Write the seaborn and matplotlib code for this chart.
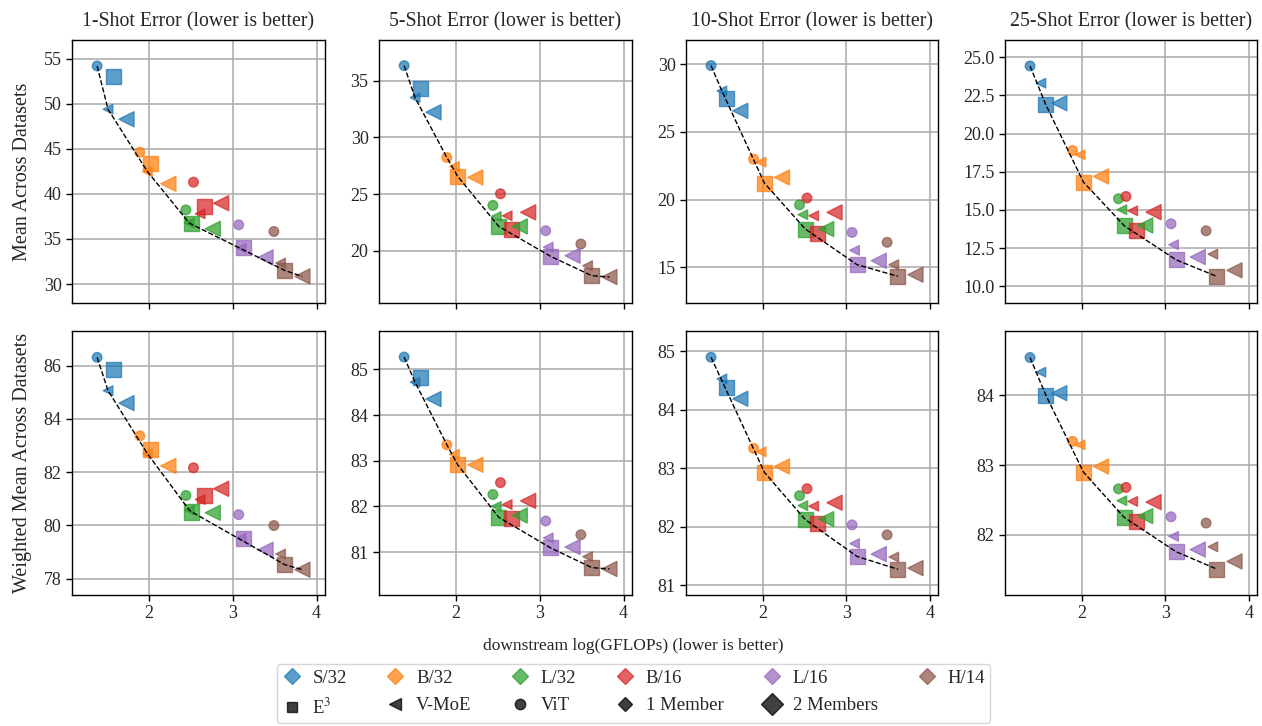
import numpy as np
import pandas as pd
import matplotlib
matplotlib.use("Agg")
import matplotlib.pyplot as plt
from matplotlib.lines import Line2D
import seaborn as sns

# ---------------------------------------------------------------
# data
# ---------------------------------------------------------------
models = ["S/32", "B/32", "L/32", "B/16", "L/16", "H/14"]
shots = [1, 5, 10, 25]

# downstream log(GFLOPs) per model, one list per method / ensemble size
gflops_vit = [1.38, 1.89, 2.44, 2.53, 3.07, 3.49]
gflops_vmoe_1 = [1.51, 1.98, 2.48, 2.61, 3.10, 3.57]
gflops_e3 = [1.57, 2.02, 2.51, 2.66, 3.13, 3.62]
gflops_vmoe_2 = [1.73, 2.23, 2.76, 2.86, 3.39, 3.83]

# mean error across datasets
mean_1_vit = [54.19, 44.62, 38.23, 41.30, 36.57, 35.83]
mean_1_vmoe_1 = [49.39, 42.48, 36.76, 37.79, 33.99, 32.33]
mean_1_e3 = [53.00, 43.40, 36.76, 38.60, 34.06, 31.51]
mean_1_vmoe_2 = [48.28, 41.12, 36.13, 38.97, 32.95, 30.85]

mean_5_vit = [36.32, 28.22, 24.00, 25.02, 21.76, 20.59]
mean_5_vmoe_1 = [33.50, 27.43, 23.02, 23.08, 20.32, 18.68]
mean_5_e3 = [34.27, 26.55, 22.14, 21.91, 19.50, 17.80]
mean_5_vmoe_2 = [32.21, 26.46, 22.14, 23.38, 19.56, 17.68]

mean_10_vit = [29.90, 22.99, 19.62, 20.12, 17.58, 16.85]
mean_10_vmoe_1 = [28.03, 22.77, 18.89, 18.81, 16.26, 15.20]
mean_10_e3 = [27.49, 21.22, 17.83, 17.48, 15.20, 14.34]
mean_10_vmoe_2 = [26.56, 21.64, 17.83, 19.06, 15.49, 14.46]

mean_25_vit = [24.43, 18.89, 15.73, 15.88, 14.09, 13.63]
mean_25_vmoe_1 = [23.30, 18.61, 15.01, 14.94, 12.72, 12.10]
mean_25_e3 = [21.88, 16.82, 13.96, 13.63, 11.73, 10.64]
mean_25_vmoe_2 = [21.99, 17.19, 13.98, 14.85, 11.91, 11.04]

# weighted mean error across datasets
wmean_1_vit = [86.31, 83.36, 81.12, 82.16, 80.40, 79.99]
wmean_1_vmoe_1 = [85.06, 82.69, 80.57, 80.97, 79.52, 78.92]
wmean_1_e3 = [85.87, 82.86, 80.50, 81.13, 79.52, 78.52]
wmean_1_vmoe_2 = [84.59, 82.23, 80.47, 81.37, 79.08, 78.33]

wmean_5_vit = [85.27, 83.35, 82.26, 82.52, 81.68, 81.38]
wmean_5_vmoe_1 = [84.72, 83.14, 82.00, 82.04, 81.31, 80.90]
wmean_5_e3 = [84.82, 82.91, 81.76, 81.73, 81.09, 80.66]
wmean_5_vmoe_2 = [84.35, 82.91, 81.80, 82.12, 81.11, 80.63]

wmean_10_vit = [84.90, 83.34, 82.53, 82.65, 82.03, 81.86]
wmean_10_vmoe_1 = [84.53, 83.28, 82.36, 82.35, 81.71, 81.48]
wmean_10_e3 = [84.39, 82.93, 82.12, 82.05, 81.49, 81.27]
wmean_10_vmoe_2 = [84.19, 83.03, 82.13, 82.41, 81.53, 81.29]

wmean_25_vit = [84.54, 83.34, 82.66, 82.68, 82.26, 82.17]
wmean_25_vmoe_1 = [84.33, 83.29, 82.49, 82.48, 81.98, 81.83]
wmean_25_e3 = [84.00, 82.90, 82.25, 82.19, 81.76, 81.51]
wmean_25_vmoe_2 = [84.03, 82.98, 82.27, 82.47, 81.79, 81.62]

top_row = [
    (mean_1_vit, mean_1_vmoe_1, mean_1_e3, mean_1_vmoe_2),
    (mean_5_vit, mean_5_vmoe_1, mean_5_e3, mean_5_vmoe_2),
    (mean_10_vit, mean_10_vmoe_1, mean_10_e3, mean_10_vmoe_2),
    (mean_25_vit, mean_25_vmoe_1, mean_25_e3, mean_25_vmoe_2),
]
bottom_row = [
    (wmean_1_vit, wmean_1_vmoe_1, wmean_1_e3, wmean_1_vmoe_2),
    (wmean_5_vit, wmean_5_vmoe_1, wmean_5_e3, wmean_5_vmoe_2),
    (wmean_10_vit, wmean_10_vmoe_1, wmean_10_e3, wmean_10_vmoe_2),
    (wmean_25_vit, wmean_25_vmoe_1, wmean_25_e3, wmean_25_vmoe_2),
]

# axis ranges and tick labels
x_limits = (1.08, 4.10)
x_ticks = [2, 3, 4]
top_ylims = [(27.9, 57.07), (15.39, 38.58), (12.37, 31.79), (8.9, 26.13)]
bottom_ylims = [(77.38, 87.3), (80.06, 85.84), (80.83, 85.35), (81.14, 84.92)]
top_yticks = [
    [30, 35, 40, 45, 50, 55],
    [20, 25, 30, 35],
    [15, 20, 25, 30],
    [10.0, 12.5, 15.0, 17.5, 20.0, 22.5, 25.0],
]
bottom_yticks = [
    [78, 80, 82, 84, 86],
    [81, 82, 83, 84, 85],
    [81, 82, 83, 84, 85],
    [82, 83, 84],
]

# ---------------------------------------------------------------
# style
# ---------------------------------------------------------------
sns.set_style("ticks")
plt.rcParams["font.family"] = ["Liberation Serif", "DejaVu Serif"]
plt.rcParams["mathtext.fontset"] = "stix"
plt.rcParams["axes.linewidth"] = 1.0
plt.rcParams["axes.edgecolor"] = "black"

palette = dict(zip(models, sns.color_palette("tab10", 6)))
marker_map = {"ViT": "o", "V-MoE": "<", "E3": "s"}
size_map = {1: 48, 2: 118}


def panel_frame(vit, vmoe_1, e3, vmoe_2):
    rows = []
    groups = [
        (gflops_vit, vit, "ViT", 1),
        (gflops_vmoe_1, vmoe_1, "V-MoE", 1),
        (gflops_e3, e3, "E3", 2),
        (gflops_vmoe_2, vmoe_2, "V-MoE", 2),
    ]
    for xs, ys, method, members in groups:
        for m, x, y in zip(models, xs, ys):
            rows.append({"model": m, "method": method, "members": members,
                         "gflops": x, "error": y})
    return pd.DataFrame(rows)


def lower_front(xs, ys):
    # lower convex front from the cheapest point down to the best point
    pts = sorted(zip(xs, ys))
    end = int(np.argmin([p[1] for p in pts]))
    hull = []
    for p in pts[:end + 1]:
        while len(hull) >= 2:
            (x1, y1), (x2, y2) = hull[-2], hull[-1]
            if (x2 - x1) * (p[1] - y1) - (y2 - y1) * (p[0] - x1) <= 0:
                hull.pop()
            else:
                break
        hull.append(p)
    return [p[0] for p in hull], [p[1] for p in hull]


# ---------------------------------------------------------------
# figure
# ---------------------------------------------------------------
W, H = 1262, 726
fig, axes = plt.subplots(2, 4, figsize=(W / 100, H / 100), dpi=100)

col_px = [(72, 325), (379, 632), (686, 938), (1005, 1257)]
row_px = [(40, 303), (331, 595)]

rows = [(top_row, top_ylims, top_yticks), (bottom_row, bottom_ylims, bottom_yticks)]
for r, (row_data, row_lims, row_ticks) in enumerate(rows):
    for c in range(4):
        ax = axes[r, c]
        x0, x1 = col_px[c]
        y0, y1 = row_px[r]
        ax.set_position([x0 / W, 1 - y1 / H, (x1 - x0) / W, (y1 - y0) / H])

        df = panel_frame(*row_data[c])
        sns.scatterplot(
            data=df, x="gflops", y="error",
            hue="model", style="method", size="members",
            palette=palette, markers=marker_map, sizes=size_map,
            alpha=0.72, edgecolor="face", linewidth=1.0,
            legend=False, ax=ax, zorder=3,
        )
        fx, fy = lower_front(df["gflops"], df["error"])
        ax.plot(fx, fy, color="black", linestyle="--", linewidth=1.0, zorder=4)

        ax.set_xlim(*x_limits)
        ax.set_ylim(*row_lims[c])
        ax.set_xticks(x_ticks)
        ax.set_yticks(row_ticks[c])
        ax.grid(True, color="#b0b0b0", linewidth=1.2)
        ax.set_axisbelow(True)
        ax.tick_params(labelsize=13, width=1.0, length=4, direction="out", color="black")
        ax.set_xlabel("")
        ax.set_ylabel("")
        for s in ax.spines.values():
            s.set_visible(True)
            s.set_linewidth(1.0)
        if r == 0:
            ax.tick_params(labelbottom=False)
            ax.set_title(f"{shots[c]}-Shot Error (lower is better)", fontsize=14.3, pad=10)

axes[0, 3].yaxis.set_major_formatter(matplotlib.ticker.FormatStrFormatter("%.1f"))

axes[0, 0].set_ylabel("Mean Across Datasets", fontsize=14.5)
axes[1, 0].set_ylabel("Weighted Mean Across Datasets", fontsize=14.5)
axes[0, 0].yaxis.set_label_coords(-0.16, 0.5)
axes[1, 0].yaxis.set_label_coords(-0.16, 0.5)

fig.text(0.502, 1 - 646 / H, "downstream log(GFLOPs) (lower is better)",
         ha="center", va="center", fontsize=12.5)

# legend
def handle(marker, color, ms, alpha=0.72):
    return Line2D([], [], linestyle="", marker=marker, markersize=ms,
                  markerfacecolor=color, markeredgecolor=color, alpha=alpha)

model_handles = [handle("D", palette[m], 8.3) for m in models]
model_labels = models
other_handles = [
    handle("s", "black", 7.5, 0.75),
    handle("<", "black", 8, 0.75),
    handle("o", "black", 7.5, 0.75),
    handle("D", "black", 7.5, 0.75),
    handle("D", "black", 11, 0.75),
]
other_labels = ["E$^3$", "V-MoE", "ViT", "1 Member", "2 Members"]

handles, labels = [], []
for i in range(6):
    handles.append(model_handles[i])
    labels.append(model_labels[i])
    if i < 5:
        handles.append(other_handles[i])
        labels.append(other_labels[i])

leg = fig.legend(handles, labels, loc="lower center", bbox_to_anchor=(0.502, 0.0),
                 ncol=6, fontsize=13.5, frameon=True, handlelength=1.0,
                 handletextpad=0.6, columnspacing=2.1, borderpad=0.3,
                 labelspacing=0.55, borderaxespad=0.15)
leg.get_frame().set_edgecolor("#cccccc")

fig.savefig("out.png", dpi=100)
